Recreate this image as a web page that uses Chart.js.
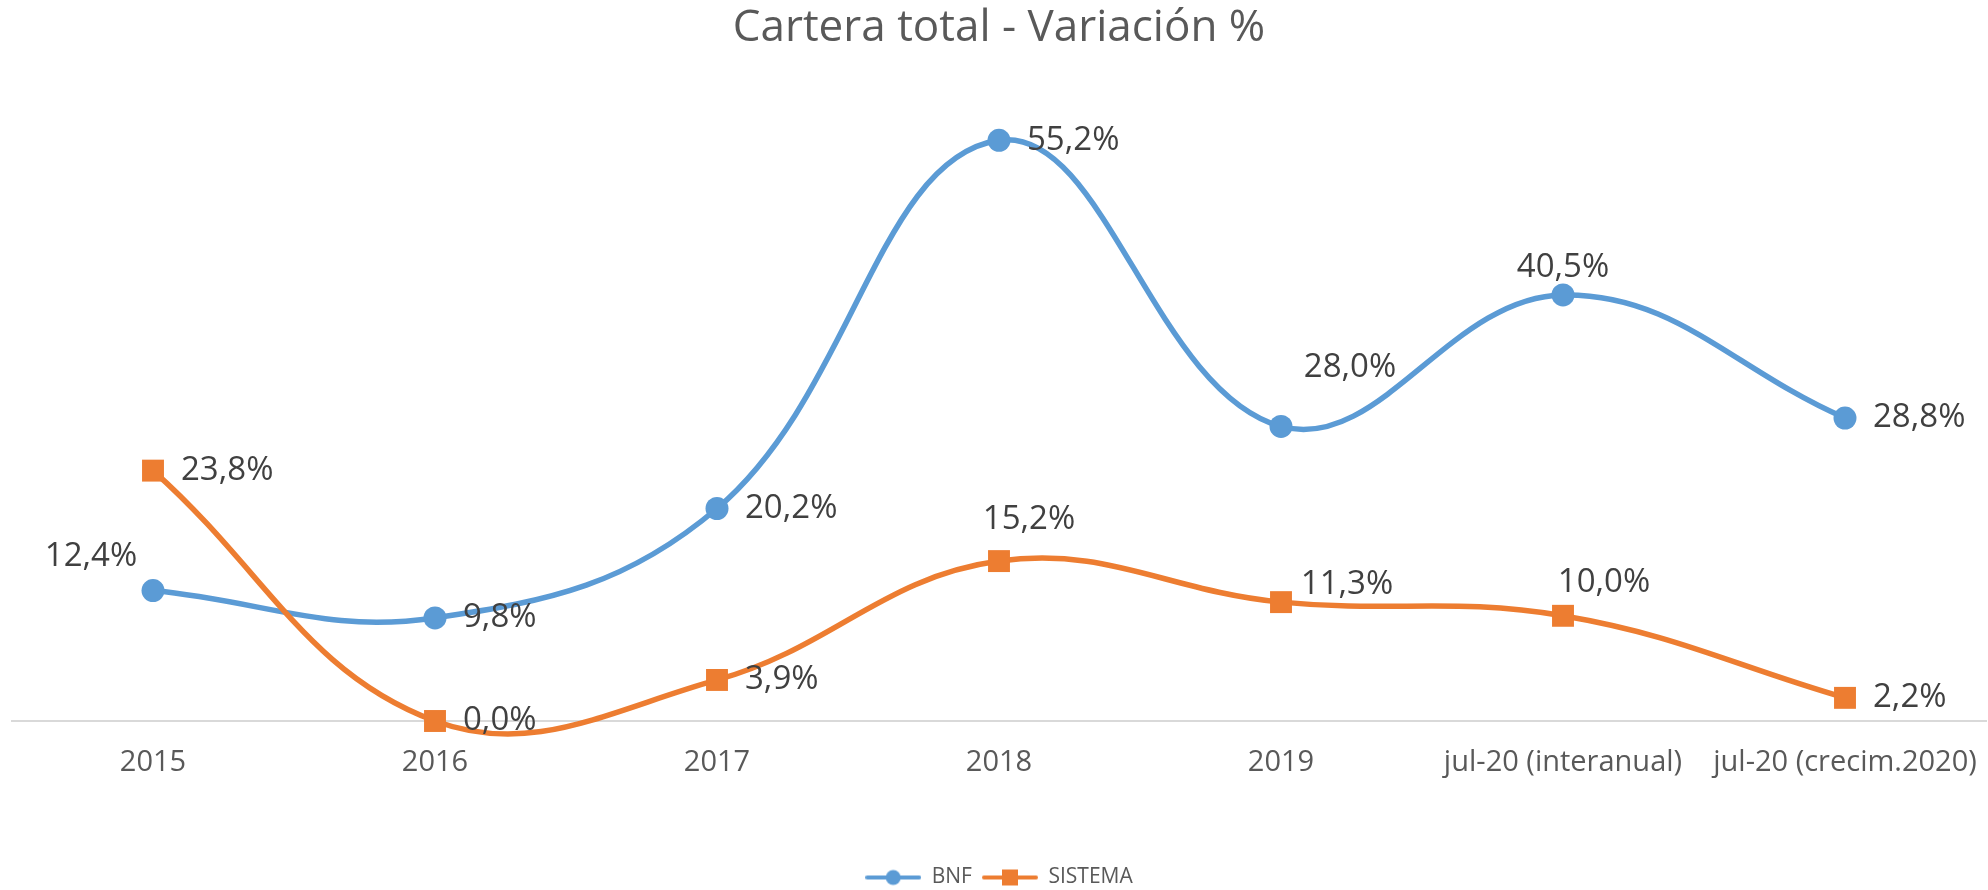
<!DOCTYPE html>
<html>
<head>
<meta charset="utf-8">
<script src="https://cdn.jsdelivr.net/npm/chart.js@4.4.0/dist/chart.umd.min.js"></script>
<style>
  html, body { margin: 0; padding: 0; background: #fff; }
  #wrap { width: 1988px; height: 890px; }
</style>
</head>
<body>
<div id="wrap"><canvas id="cartera"></canvas></div>
<script>
var CATEGORIAS = ['2015', '2016', '2017', '2018', '2019', 'jul-20 (interanual)', 'jul-20 (crecim.2020)'];
var BNF = [12.4, 9.8, 20.2, 55.2, 28.0, 40.5, 28.8];
var SISTEMA = [23.8, 0.0, 3.9, 15.2, 11.3, 10.0, 2.2];

// where each value label goes: 'r' = right of the point, otherwise [dx, dy] to the label centre
var posBNF = [[-62, -34], 'r', 'r', 'r', [69, -59], [0, -27], 'r'];
var posSISTEMA = ['r', 'r', 'r', [30, -42], [66, -18], [41, -33], 'r'];

var AZUL = '#5B9BD5';
var NARANJA = '#ED7D31';

Chart.defaults.font.family = "'Open Sans', sans-serif";

// legend icon: line with the marker in the middle, like Excel
function icono(color, forma) {
    var c = document.createElement('canvas');
    c.width = 56;
    c.height = 20;
    var g = c.getContext('2d');
    g.strokeStyle = color;
    g.lineWidth = 4;
    g.lineCap = 'round';
    g.beginPath();
    g.moveTo(2, 10);
    g.lineTo(54, 10);
    g.stroke();
    g.fillStyle = color;
    if (forma === 'circle') {
        g.beginPath();
        g.arc(28, 10, 7.5, 0, Math.PI * 2);
        g.fill();
    } else {
        g.fillRect(20, 2, 16, 16);
    }
    return c;
}
var iconos = [icono(AZUL, 'circle'), icono(NARANJA, 'rect')];

function fmt(v) {
    return v.toFixed(1).replace('.', ',') + '%';
}

var etiquetas = {
    id: 'etiquetas',
    afterDatasetsDraw: function(chart) {
        var ctx = chart.ctx;
        ctx.save();
        ctx.font = '33px "Open Sans"';
        ctx.fillStyle = '#404040';
        ctx.textBaseline = 'middle';
        chart.data.datasets.forEach(function(ds, i) {
            var meta = chart.getDatasetMeta(i);
            var pos = i === 0 ? posBNF : posSISTEMA;
            meta.data.forEach(function(pt, j) {
                var p = pos[j];
                if (p === 'r') {
                    ctx.textAlign = 'left';
                    ctx.fillText(fmt(ds.data[j]), pt.x + 28, pt.y);
                } else {
                    ctx.textAlign = 'center';
                    ctx.fillText(fmt(ds.data[j]), pt.x + p[0], pt.y + p[1]);
                }
            });
        });
        ctx.restore();
    }
};

window.onload = function() {
    var ctx = document.getElementById('cartera').getContext('2d');
    window.myLine = new Chart(ctx, {
        type: 'line',
        data: {
            labels: CATEGORIAS,
            datasets: [{
                label: 'BNF',
                data: BNF,
                borderColor: AZUL,
                backgroundColor: AZUL,
                borderWidth: 5.5,
                tension: 0.4,
                capBezierPoints: false,
                pointStyle: 'circle',
                pointRadius: 11.5,
                pointHoverRadius: 11.5,
                pointBorderWidth: 0,
                clip: false,
                order: 1
            }, {
                label: 'SISTEMA',
                data: SISTEMA,
                borderColor: NARANJA,
                backgroundColor: NARANJA,
                borderWidth: 5.5,
                tension: 0.4,
                capBezierPoints: false,
                pointStyle: 'rect',
                pointRadius: 15.5,
                pointHoverRadius: 15.5,
                pointBorderWidth: 0,
                clip: false,
                order: 0
            }]
        },
        options: {
            responsive: true,
            maintainAspectRatio: false,
            animation: false,
            layout: {
                autoPadding: false,
                padding: { left: 12, right: 2, top: 0, bottom: -8 }
            },
            plugins: {
                title: {
                    display: true,
                    text: 'Cartera total - Variación %',
                    color: '#595959',
                    font: { size: 44, weight: 'normal' },
                    padding: { top: 2, bottom: 35 }
                },
                legend: {
                    position: 'bottom',
                    labels: {
                        usePointStyle: true,
                        pointStyleWidth: 56,
                        color: '#595959',
                        font: { size: 21 },
                        padding: 10,
                        generateLabels: function(chart) {
                            var items = Chart.defaults.plugins.legend.labels.generateLabels(chart);
                            items.forEach(function(it) {
                                it.pointStyle = iconos[it.datasetIndex];
                            });
                            return items.sort(function(a, b) { return a.datasetIndex - b.datasetIndex; });
                        }
                    }
                },
                tooltip: { enabled: false }
            },
            scales: {
                x: {
                    offset: true,
                    // invisible tick marks push the labels down without adding side padding
                    grid: {
                        display: true,
                        drawOnChartArea: false,
                        drawTicks: true,
                        tickLength: 24,
                        tickColor: 'rgba(0,0,0,0)'
                    },
                    border: { color: '#d9d9d9', width: 2 },
                    ticks: {
                        color: '#595959',
                        font: { size: 29 },
                        padding: 0,
                        maxRotation: 0,
                        autoSkip: false
                    },
                    afterFit: function(scale) {
                        scale.height = 136;
                    }
                },
                y: {
                    display: false,
                    min: 0,
                    max: 60
                }
            }
        },
        plugins: [etiquetas]
    });
};
</script>
</body>
</html>
